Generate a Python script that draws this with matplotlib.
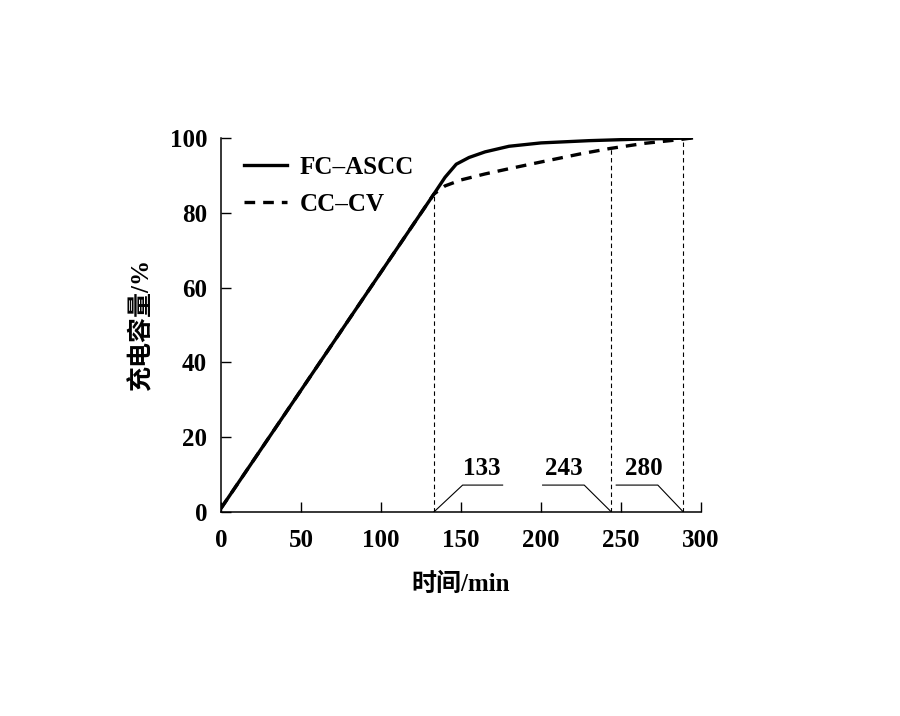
import numpy as np
import matplotlib.pyplot as plt

plt.rcParams['font.family'] = ['Liberation Serif', 'Noto Sans CJK SC']
plt.rcParams['axes.unicode_minus'] = False

# FC-ASCC curve (time in min, capacity in %)
fc_time = [0, 133, 140, 147, 155, 165, 180, 200, 230, 260, 294]
fc_cap = [1, 85, 89.5, 93, 94.8, 96.3, 97.8, 98.7, 99.3, 99.7, 100]

# CC-CV curve
cv_time = [0, 133, 140, 150, 165, 180, 200, 225, 243, 265, 285, 294]
cv_cap = [1, 85, 87.2, 88.8, 90.4, 91.8, 93.6, 95.8, 97.2, 98.6, 99.5, 100]

# marked times: drawn position and label
mark_x = [133, 244, 289]
mark_top = [85, 97.3, 100]
mark_labels = ['133', '243', '280']

x_ticks = [0, 50, 100, 150, 200, 250, 300]
y_ticks = [0, 20, 40, 60, 80, 100]

fs = 18

fig = plt.figure(figsize=(9, 7.16), dpi=100)
ax = fig.add_axes([0.2456, 0.2849, 0.5333, 0.5223])

ax.plot(fc_time, fc_cap, color='black', lw=2.4, label='FC–ASCC')
ax.plot(cv_time, cv_cap, color='black', lw=2.4, ls=(0, (3.2, 2.4)), label='CC–CV')

for x, top in zip(mark_x, mark_top):
    ax.plot([x, x], [0, top], color='black', lw=0.8, ls=(0, (4, 3)))

# leader lines to the labels
ax.plot([133, 151, 176], [0, 7.2, 7.2], color='black', lw=0.8)
ax.plot([201, 227, 244], [7.2, 7.2, 0], color='black', lw=0.8)
ax.plot([247, 273, 289], [7.2, 7.2, 0], color='black', lw=0.8)
ax.text(163, 8.6, mark_labels[0], ha='center', va='bottom', fontsize=fs, fontweight='bold')
ax.text(214, 8.6, mark_labels[1], ha='center', va='bottom', fontsize=fs, fontweight='bold')
ax.text(264, 8.6, mark_labels[2], ha='center', va='bottom', fontsize=fs, fontweight='bold')

ax.set_xlim(0, 300)
ax.set_ylim(0, 100)
ax.set_xticks(x_ticks)
ax.set_yticks(y_ticks)
ax.tick_params(direction='in', length=7, width=1, labelsize=fs)
ax.tick_params(axis='x', pad=12)
ax.tick_params(axis='y', pad=10)
for lab in ax.get_xticklabels() + ax.get_yticklabels():
    lab.set_fontweight('bold')
for s in ['top', 'right']:
    ax.spines[s].set_visible(False)
for s in ['left', 'bottom']:
    ax.spines[s].set_linewidth(1.1)

ax.set_xlabel('时间/min', fontsize=fs, fontweight='bold', labelpad=15)
ax.set_ylabel('充电容量/%', fontsize=fs, fontweight='bold', labelpad=12)

ax.legend(loc='upper left', bbox_to_anchor=(0.0, 1.012), frameon=False,
          prop={'size': fs, 'weight': 'bold'}, handlelength=1.75,
          handletextpad=0.5, labelspacing=0.55)

fig.savefig('out.png', dpi=100, facecolor='white')
